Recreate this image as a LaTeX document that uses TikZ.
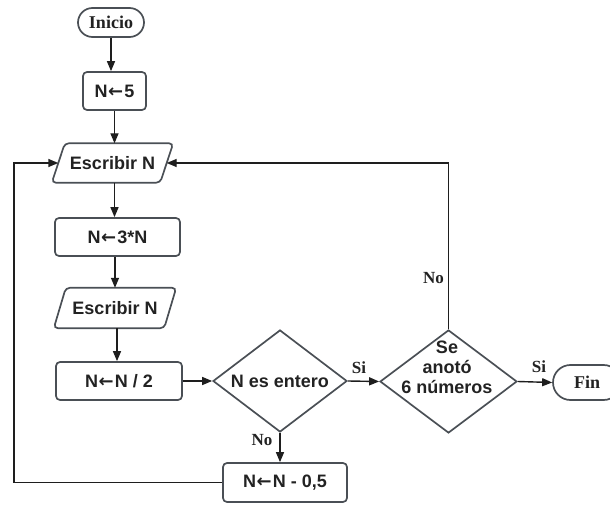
\documentclass[tikz,border=0pt]{standalone}
\usepackage{fontspec}
\setmainfont{Liberation Serif}
\newfontfamily\boxfont{Liberation Sans}
\newfontfamily\arrowfont{DejaVu Sans}
\newcommand\larr{{\arrowfont\bfseries\kern0.5pt←\kern1pt}}
\usetikzlibrary{shapes.geometric,shapes.misc,arrows.meta,calc}
\definecolor{edgec}{HTML}{4A4F55}
\definecolor{linec}{HTML}{1E1E1E}
\definecolor{txtc}{HTML}{222222}
\begin{document}
\begin{tikzpicture}[x=1pt,y=-1pt,
  proc/.style={rectangle,rounded corners=4pt,draw=edgec,line width=1.7pt,
    minimum width=125pt,minimum height=38pt,inner sep=0pt,
    font=\boxfont\bfseries\fontsize{18}{20}\selectfont,text=txtc},
  ioslot/.style={rectangle,inner sep=0pt,minimum height=39pt,
    font=\boxfont\bfseries\fontsize{18}{20}\selectfont,text=txtc},
  ioshape/.style={draw=edgec,line width=1.7pt,rounded corners=4pt},
  term/.style={rounded rectangle,draw=edgec,line width=1.7pt,inner sep=0pt,
    font=\bfseries\fontsize{18}{20}\selectfont,text=txtc},
  dec/.style={diamond,draw=edgec,line width=1.7pt,aspect=1.3,inner sep=0pt,
    font=\boxfont\bfseries\fontsize{18}{20}\selectfont,text=txtc},
  flow/.style={draw=linec,line width=1.4pt,-{Triangle[length=10pt,width=8pt]}},
  tag/.style={font=\bfseries\fontsize{17}{18}\selectfont,text=txtc,inner sep=0pt}]
\useasboundingbox (0,0) rectangle (610,505);
\clip (0,0) rectangle (610,505);

\node[term,minimum width=66pt,minimum height=29pt] (inicio) at (111,22.5) {Inicio};
\node[proc,minimum width=63pt] (n5) at (114.5,91) {N\larr5};
\node[ioslot,minimum width=108pt] (e1) at (112.5,163) {Escribir N};
\draw[ioshape] ($(e1.south west)+(-6.5,0)$) -- ($(e1.north west)+(6.5,0)$) -- ($(e1.north east)+(6.5,0)$) -- ($(e1.south east)+(-6.5,0)$) -- cycle;
\node[proc] (a3) at (117.5,237) {N\larr3*N};
\node[ioslot,minimum width=110pt,minimum height=40pt] (e2) at (115,308) {Escribir N};
\draw[ioshape] ($(e2.south west)+(-6,0)$) -- ($(e2.north west)+(6,0)$) -- ($(e2.north east)+(6,0)$) -- ($(e2.south east)+(-6,0)$) -- cycle;
\node[proc,minimum width=126pt] (a4) at (119,381) {N\larr N / 2};
\node[dec,minimum width=134pt,minimum height=102pt] (d1) at (280,381) {N es entero};
\node[proc,minimum width=124pt,minimum height=39pt] (a5) at (285,482.5) {N\larr N - 0,5};
\node[dec,minimum width=137pt,minimum height=103pt] (d2) at (448.5,381.5) {};
\node[align=center,inner sep=0pt,font=\boxfont\bfseries\fontsize{18}{20}\selectfont,text=txtc] (d2t) at (447,367) {Se\\anotó\\6 números};
\node[term,minimum width=68pt,minimum height=35pt] (fin) at (587,382.5) {Fin};

\coordinate (lc) at (14,482.5);

\draw[flow] (inicio.south) -- (inicio.south |- n5.north);
\draw[flow] (n5.south) -- (n5.south |- e1.north);
\draw[flow] (e1.south -| n5.south) -- (n5.south |- a3.north);
\draw[flow] (a3.south -| e2.north) -- (e2.north);
\draw[flow] (e2.south -| a4.north) ++(-2,0) -- ($(a4.north)+(-2,0)$);
\draw[flow] (a4.east) -- (d1.west);
\draw[flow] (d1.east) -- (d2.west);
\draw[flow] (d2.east) -- (fin.west);
\draw[flow] (d1.south) -- (a5.north -| d1.south);
\draw[flow] (a5.west) -- (a5.west -| lc) |- (e1.west);
\draw[flow] (d2.north) |- (e1.east);

\node[tag] (no2) at (433.5,278) {No};
\node[tag] (no1) at (262,440) {No};
\node[tag] (si1) at (359,368) {Si};
\node[tag] (si2) at (539,367) {Si};
\end{tikzpicture}
\end{document}
